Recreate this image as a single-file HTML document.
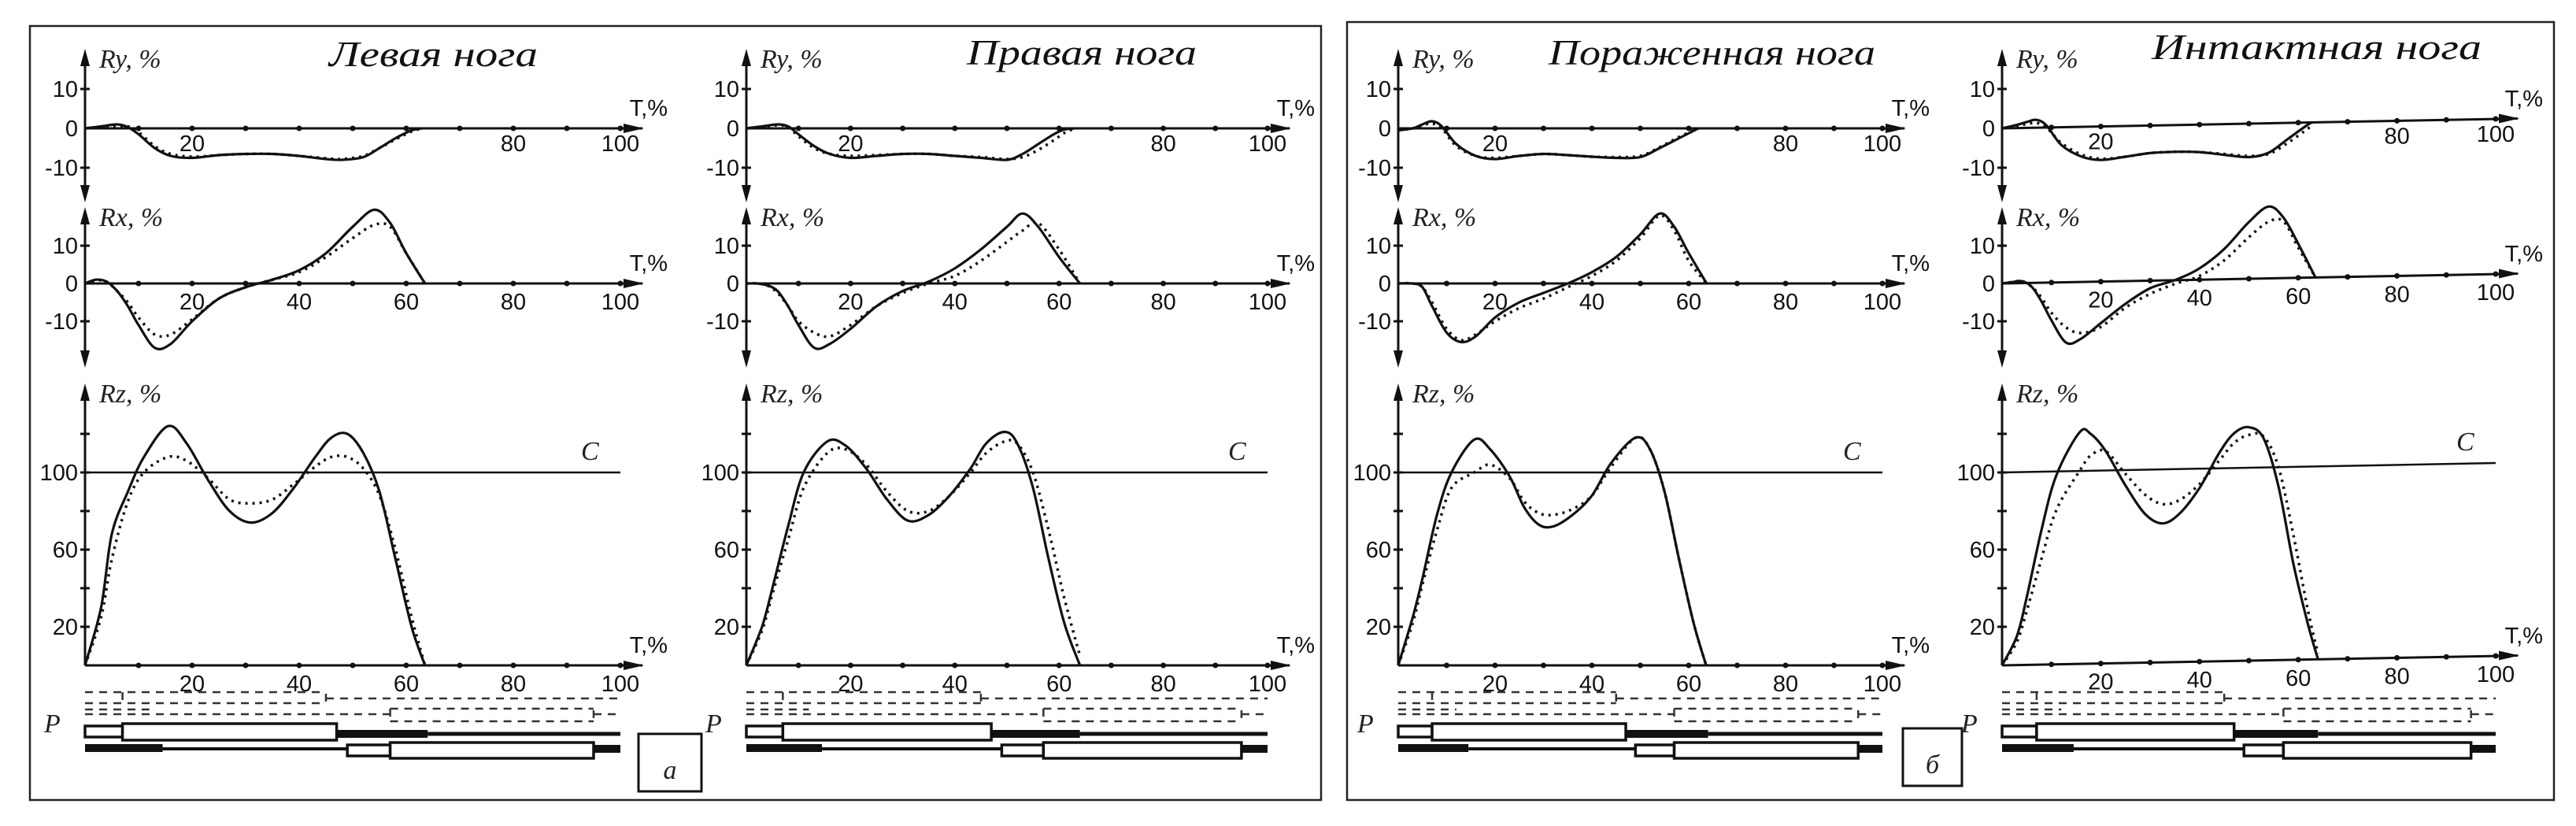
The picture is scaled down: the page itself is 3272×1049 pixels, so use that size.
<!DOCTYPE html>
<html><head><meta charset="utf-8">
<style>
html,body{margin:0;padding:0;background:#fff;}
svg{display:block;}
.tk{font-family:"Liberation Sans",sans-serif;font-size:29px;fill:#111;}
.al{font-family:"Liberation Serif","DejaVu Serif",serif;font-style:italic;font-size:34px;fill:#222;}
.ti{font-family:"Liberation Serif","DejaVu Serif",serif;font-style:italic;font-size:46px;fill:#111;}
</style></head>
<body>
<svg id="fig" width="3272" height="1049" viewBox="0 0 3272 1049" xmlns="http://www.w3.org/2000/svg">
<rect x="0" y="0" width="3272" height="1049" fill="#fff"/>
<rect x="38" y="33" width="1640" height="983" fill="none" stroke="#222" stroke-width="2.5"/>
<rect x="1711" y="28" width="1533" height="988" fill="none" stroke="#222" stroke-width="2.5"/>
<g id="plots"></g>
</svg>
<script>
// ---- data (T in %, values in %) ----
const panelTitles = ["Левая нога", "Правая нога", "Пораженная нога", "Интактная нога"];
const ryTicks = [10, 0, -10];
const rxTicks = [10, 0, -10];
const rzTicks = [20, 60, 100];
const ryXLabels = [20, 80, 100];
const rxXLabels = [20, 40, 60, 80, 100];
const rzXLabels = [20, 40, 60, 80, 100];

const p1RyT = [0,3,6,8,10,13,16,20,25,30,35,40,45,48,52,55,58,61,63];
const p1RyS = [0,0.5,1,0.3,-1.5,-5,-7,-7.5,-6.8,-6.5,-6.5,-7,-7.8,-8,-7.3,-5,-2.5,-0.5,0];
const p1RyD = [0,0.3,0.6,0.5,-1,-4.5,-6.5,-7.2,-6.8,-6.5,-6.5,-7,-7.6,-7.8,-7,-5,-2.8,-0.8,0];
const p1RxT = [0,2,4,6,8,10,13,16,20,25,30,35,40,45,50,54,57,60,63.5];
const p1RxS = [0,1,0.5,-2,-6,-11,-17,-16,-10,-4,-1,1,3.5,8,15,19.5,16,8,0];
const p1RxD = [0,0.8,0.5,-2,-5,-9,-13.5,-13.5,-9.5,-4,-1,1,3,7,12,15.5,15,8,0];
const p1RzT = [0,3,5,8,11,15.5,19,23,27,31,35,39,43,46,49,52,55,58,61,63.5];
const p1RzS = [0,30,68,90,108,124,115,96,80,74,79,92,108,118,120,110,90,55,20,0];
const p1RzD = [0,25,55,85,100,108,106,97,86,84,86,94,103,108,108,102,88,60,25,0];

const p2RyT = [0,3,6,8,10,13,16,20,25,30,35,40,45,50,53,56,59,61,63];
const p2RyS = [0,0.5,1,0.5,-1.5,-4.5,-6.5,-7.5,-7,-6.5,-6.5,-7,-7.5,-8,-6.5,-4,-1.5,-0.3,0];
const p2RyD = [0,0.3,0.8,0.3,-2,-5,-6.5,-7,-6.8,-6.5,-6.5,-7,-7.3,-7.8,-7.3,-5.5,-3,-1.2,0];
const p2RxT = [0,2,4,6,8,10,13,16,20,25,30,35,40,45,50,53,56,60,64];
const p2RxS = [0,0,-0.5,-2,-6,-11,-17,-16,-12,-6,-2,0.5,4,9,15,18.5,15,7,0];
const p2RxD = [0,0,-0.5,-2.5,-6,-10,-13,-14,-11,-6,-2.5,0,2,6,11,14,16,9,0];
const p2RzT = [0,3,5,8,11,15.5,19,23,27,31,35,39,43,46,49.5,52,55,58,61,64];
const p2RzS = [0,20,40,72,100,116,114,102,86,75,78,88,102,115,121,115,92,55,22,0];
const p2RzD = [0,18,37,65,92,110,112,104,90,80,80,88,100,110,116,115,100,70,35,5];

const p3RyT = [0,3,5,7,9,12,16,20,25,30,35,40,45,50,54,58,62];
const p3RyS = [-0.5,0,1,1.8,0.5,-4,-7,-7.8,-7,-6.5,-6.8,-7.2,-7.5,-7.3,-5,-2.5,0];
const p3RyD = [-0.5,0,0.8,1.2,0,-4.5,-7,-7.5,-7,-6.5,-6.8,-7.2,-7.3,-7,-4.8,-2.2,0];
const p3RxT = [0,3,5,7,10,13,16,20,25,30,35,40,45,50,54,57,60,63.7];
const p3RxS = [0,0,-1,-6,-13,-15.5,-14,-9,-5,-2.5,0,3,7,13,18.5,15,8,0];
const p3RxD = [0,0,-1,-5,-12,-15,-13.5,-10,-6.5,-4,-1,2,6,12,18,14,6,0];
const p3RzT = [0,3,5,8,11,15.7,19,23,26,29,32,36,40,44,49,52,55,58,61,63.6];
const p3RzS = [0,25,45,78,100,117,112,98,82,73,72,78,88,105,118,112,90,55,22,0];
const p3RzD = [0,22,42,70,92,100,104,97,85,79,78,81,88,103,118,112,90,55,22,0];

const p4RyT = [0,3,5,7,9,12,16,20,25,30,35,40,45,50,54,58,62,63];
const p4RyS = [0,0.8,1.5,2,0.5,-4.5,-7.5,-8.5,-7.8,-7,-6.8,-7,-7.8,-8.5,-7.5,-4,-0.5,0];
const p4RyD = [0,0.5,1,1.2,0,-4,-7,-8.2,-7.8,-7,-6.8,-7,-7.6,-8.2,-7.8,-5,-1.5,-0.5];
const p4RxT = [0,2,4,6,8,10,13,16,20,25,30,35,40,45,50,54,57,60,63.5];
const p4RxS = [0,0.3,0.5,-1,-5,-10,-16,-15,-11,-6,-2,0,3,8,15,19,16,9,0];
const p4RxD = [0,0.3,0.5,-1,-4,-8,-12,-13.5,-12,-7,-3.5,-1,1,5,11,15,15,8,0];
const p4RzT = [0,3,5,8,11,15.7,18,21,25,29,32.5,36,40,44,47,50,53,56,59,62,64];
const p4RzS = [0,15,35,70,98,120,119,110,92,77,72,77,90,108,118,121,115,90,50,18,0];
const p4RzD = [0,12,28,55,80,100,108,110,98,87,82,84,92,104,113,117,116,100,65,25,3];

// gait diagram phases (T %)
const gaitSolid1 = [0, 7, 47, 64];
const gaitSolid2 = [14.5, 49, 57, 95];
const gaitDash1 = [7, 45];
const gaitDash2 = [57, 95];

// ---- layout ----
const NS = "http://www.w3.org/2000/svg";
const root = document.getElementById("plots");
const panels = [
  {ox:108, w:680, titleX:418, titleW:265, titleY:84, tilt:0},
  {ox:948, w:662, titleX:1228, titleW:292, titleY:82, tilt:0},
  {ox:1776, w:615, titleX:1967, titleW:415, titleY:82, tilt:0},
  {ox:2543, w:627, titleX:2733, titleW:419, titleY:75, tilt:-12}
];
const series = [
  [[p1RyT,p1RyS,p1RyD],[p1RxT,p1RxS,p1RxD],[p1RzT,p1RzS,p1RzD]],
  [[p2RyT,p2RyS,p2RyD],[p2RxT,p2RxS,p2RxD],[p2RzT,p2RzS,p2RzD]],
  [[p3RyT,p3RyS,p3RyD],[p3RxT,p3RxS,p3RxD],[p3RzT,p3RzS,p3RzD]],
  [[p4RyT,p4RyS,p4RyD],[p4RxT,p4RxS,p4RxD],[p4RzT,p4RzS,p4RzD]]
];
const charts = [
  {key:"ry", lab:"Ry, %", zero:163, k:5.0, top:62, bot:257, yt:ryTicks, xl:ryXLabels, xlY:182, dn:true},
  {key:"rx", lab:"Rx, %", zero:360, k:4.8, top:263, bot:467, yt:rxTicks, xl:rxXLabels, xlY:383, dn:true},
  {key:"rz", lab:"Rz, %", zero:845, k:2.45, top:487, bot:845, yt:rzTicks, xl:rzXLabels, xlY:868, dn:false}
];

function mk(tag, attrs, parent){
  const e = document.createElementNS(NS, tag);
  for (const a in attrs) e.setAttribute(a, attrs[a]);
  (parent||root).appendChild(e);
  return e;
}
function smooth(pts){
  let d = "M" + pts[0][0].toFixed(1) + "," + pts[0][1].toFixed(1);
  for (let i=0;i<pts.length-1;i++){
    const p0 = pts[Math.max(0,i-1)], p1 = pts[i], p2 = pts[i+1], p3 = pts[Math.min(pts.length-1,i+2)];
    const c1x = p1[0] + (p2[0]-p0[0])/6, c1y = p1[1] + (p2[1]-p0[1])/6;
    const c2x = p2[0] - (p3[0]-p1[0])/6, c2y = p2[1] - (p3[1]-p1[1])/6;
    d += " C" + c1x.toFixed(1)+","+c1y.toFixed(1)+" "+c2x.toFixed(1)+","+c2y.toFixed(1)+" "+p2[0].toFixed(1)+","+p2[1].toFixed(1);
  }
  return d;
}

panels.forEach((P, pi) => {
  const g = mk("g", {});
  
  
  const xs = t => P.ox + t * P.w / 100;
  const tl = t => P.tilt * t / 100;

  const title = mk("text", {x:P.titleX, y:P.titleY, "class":"ti", textLength:P.titleW, lengthAdjust:"spacingAndGlyphs"}, g);
  title.textContent = panelTitles[pi];
  
  

  charts.forEach((C, ci) => {
    const ys = v => C.zero - v * C.k;
    const cg = mk("g", {}, g);
    
    
    const ya = mk("line", {x1:P.ox, y1:C.top+8, x2:P.ox, y2:C.dn?C.bot-8:C.zero, stroke:"#111", "stroke-width":3}, cg);
    
    
    const ua = mk("path", {d:"M"+P.ox+","+C.top+" l-6,22 l12,0 z", fill:"#111"}, cg);
    
    
    if (C.dn){
      const da = mk("path", {d:"M"+P.ox+","+C.bot+" l-6,-22 l12,0 z", fill:"#111"}, cg);
      
      
    }
    const xEnd = xs(100)+28;
    const xa = mk("line", {x1:P.ox, y1:C.zero, x2:xEnd, y2:C.zero+tl(104), stroke:"#111", "stroke-width":3}, cg);
    
    
    const ay = C.zero + tl(104);
    const xarr = mk("path", {d:"M"+(xs(100)+30)+","+ay+" l-26,-6 l0,12 z", fill:"#111"}, cg);
    
    
    for (let t=10;t<=100;t+=10){
      const dot = mk("circle", {cx:xs(t), cy:C.zero+tl(t), r:3.5, fill:"#111"}, cg);
      
      
    }
    C.xl.forEach(v => {
      const lb = mk("text", {x:xs(v), y:C.xlY+10+tl(v), "class":"tk", "text-anchor":"middle"}, cg);
      lb.textContent = v;
      
      
    });
    const tx = mk("text", {x:xs(100)+60, y:C.zero-16+tl(100), "class":"tk", "text-anchor":"end"}, cg);
    tx.textContent = "T,%";
    
    
    if (C.key === "rz"){
      for (let v=20; v<=120; v+=20){
        const tm = mk("line", {x1:P.ox-6, y1:ys(v), x2:P.ox+6, y2:ys(v), stroke:"#111", "stroke-width":3}, cg);
        
        
      }
    } else {
      C.yt.forEach(v => {
        if (v === 0) return;
        const tm = mk("line", {x1:P.ox-6, y1:ys(v), x2:P.ox+6, y2:ys(v), stroke:"#111", "stroke-width":3}, cg);
        
        
      });
    }
    C.yt.forEach(v => {
      const yl = mk("text", {x:P.ox-9, y:ys(v)+10, "class":"tk", "text-anchor":"end"}, cg);
      yl.textContent = v;
      
      
    });
    const al = mk("text", {x:P.ox+18, y:C.top+24, "class":"al"}, cg);
    al.textContent = C.lab;
    
    
    if (C.key === "rz"){
      const cl = mk("line", {x1:P.ox, y1:ys(100), x2:xs(100), y2:ys(100)+tl(100), stroke:"#111", "stroke-width":2.5}, cg);
      
      
      const ct = mk("text", {x:xs(100)-50, y:ys(100)-16+tl(100), "class":"al", "font-size":"44"}, cg);
      ct.textContent = "C";
      
      
    }
    const S = series[pi][ci];
    const ptsS = S[0].map((t,i) => [xs(t), ys(S[1][i]) + tl(t)]);
    const ptsD = S[0].map((t,i) => [xs(t), ys(S[2][i]) + tl(t)]);
    const ld = mk("path", {d:smooth(ptsD), fill:"none", stroke:"#111", "stroke-width":3.5, "stroke-dasharray":"3 6"}, cg);
    
    
    const ls = mk("path", {d:smooth(ptsS), fill:"none", stroke:"#111", "stroke-width":3.2}, cg);
    
    
  });

  const gg = mk("g", {}, g);
  
  
  const pl = mk("text", {x:P.ox-52, y:930, "class":"al", "font-size":"42"}, gg);
  pl.textContent = "P";
  
  
  const dsh = {fill:"none", stroke:"#333", "stroke-width":2.5, "stroke-dasharray":"10 8"};
  const d1 = mk("path", Object.assign({d:"M"+xs(0)+",879 H"+xs(gaitDash1[1])+" M"+xs(0)+",893 H"+xs(gaitDash1[1])+" M"+xs(gaitDash1[1])+",887 H"+xs(100)+" M"+xs(gaitDash1[0])+",879 V894 M"+xs(gaitDash1[1])+",881 V893"}, dsh), gg);
  
  
  const d2 = mk("path", Object.assign({d:"M"+xs(0)+",901 H"+xs(12)+" M"+xs(0)+",907 H"+xs(gaitDash2[0])+" M"+xs(gaitDash2[0])+",900 H"+xs(gaitDash2[1])+" M"+xs(gaitDash2[0])+",916 H"+xs(gaitDash2[1])+" M"+xs(gaitDash2[0])+",900 V916 M"+xs(gaitDash2[1])+",902 V914 M"+xs(gaitDash2[1])+",907 H"+xs(100)}, dsh), gg);
  
  
  const r1l = mk("line", {x1:xs(gaitSolid1[3]), y1:932, x2:xs(100), y2:932, stroke:"#111", "stroke-width":5}, gg);
  
  
  const r1k = mk("rect", {x:xs(gaitSolid1[2]), y:927, width:xs(gaitSolid1[3])-xs(gaitSolid1[2]), height:10, fill:"#111"}, gg);
  
  
  const r1a = mk("rect", {x:xs(gaitSolid1[0]), y:922, width:xs(gaitSolid1[1])-xs(gaitSolid1[0]), height:14, fill:"#fff", stroke:"#111", "stroke-width":3.5}, gg);
  
  
  const r1b = mk("rect", {x:xs(gaitSolid1[1]), y:919, width:xs(gaitSolid1[2])-xs(gaitSolid1[1]), height:21, fill:"#fff", stroke:"#111", "stroke-width":3.5}, gg);
  
  
  const r2k = mk("rect", {x:xs(0), y:945, width:xs(gaitSolid2[0])-xs(0), height:10, fill:"#111"}, gg);
  
  
  const r2l = mk("line", {x1:xs(gaitSolid2[0]), y1:951, x2:xs(gaitSolid2[1]), y2:951, stroke:"#111", "stroke-width":4}, gg);
  
  
  const r2e = mk("rect", {x:xs(gaitSolid2[3]), y:946, width:xs(100)-xs(gaitSolid2[3]), height:10, fill:"#111"}, gg);
  
  
  const r2a = mk("rect", {x:xs(gaitSolid2[1]), y:946, width:xs(gaitSolid2[2])-xs(gaitSolid2[1]), height:14, fill:"#fff", stroke:"#111", "stroke-width":3.5}, gg);
  
  
  const r2b = mk("rect", {x:xs(gaitSolid2[2]), y:943, width:xs(gaitSolid2[3])-xs(gaitSolid2[2]), height:20, fill:"#fff", stroke:"#111", "stroke-width":3.5}, gg);
  
  
});

const letters = [{x:811, y:932, w:80, h:73, t:"а"}, {x:2417, y:925, w:75, h:73, t:"б"}];
letters.forEach(L => {
  const b = mk("rect", {x:L.x, y:L.y, width:L.w, height:L.h, fill:"#fff", stroke:"#111", "stroke-width":3});
  
  
  const t = mk("text", {x:L.x+L.w/2, y:L.y+L.h-16, "class":"al", "font-size":"62", "text-anchor":"middle"});
  t.textContent = L.t;
  
  
});
</script>
</body></html>
